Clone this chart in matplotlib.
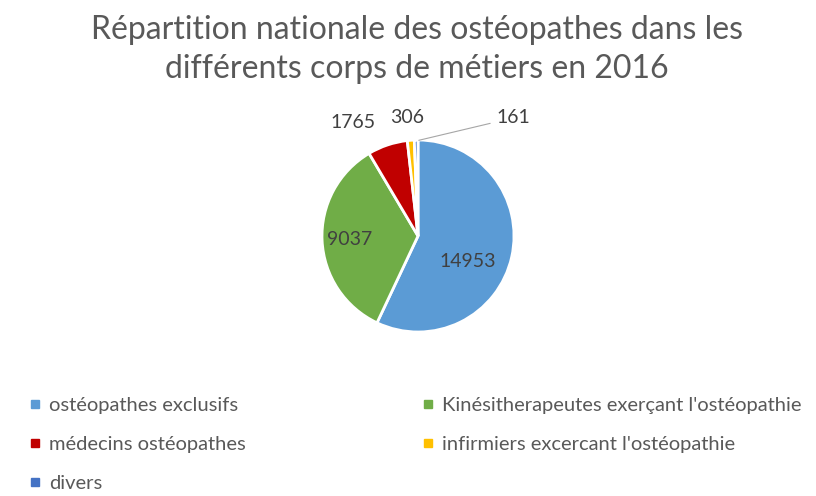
import matplotlib.pyplot as plt
from matplotlib.lines import Line2D

# data
categories = ["ostéopathes exclusifs",
              "Kinésitherapeutes exerçant l'ostéopathie",
              "médecins ostéopathes",
              "infirmiers excercant l'ostéopathie",
              "divers"]
values = [14953, 9037, 1765, 306, 161]
colors = ["#5B9BD5", "#70AD47", "#C00000", "#FFC000", "#4472C4"]
# where each value label sits (in pie radius units)
label_pos = [(0.52, -0.27), (-0.71, -0.04), (-0.68, 1.18), (-0.11, 1.23), (0.99, 1.23)]

plt.rcParams['font.family'] = ['Lato', 'DejaVu Sans']
grey = "#595959"

fig = plt.figure(figsize=(8.16, 4.96), dpi=100)
fig.text(0.511, 0.901, "Répartition nationale des ostéopathes dans les\ndifférents corps de métiers en 2016",
         ha='center', va='center', fontsize=23, color=grey, linespacing=1.38)

ax = fig.add_axes([322/816, 164/496, 192/816, 192/496])
wedges, _ = ax.pie(values, colors=colors, startangle=90, counterclock=False,
                   wedgeprops=dict(edgecolor='white', linewidth=2))
ax.set_xlim(-1, 1)
ax.set_ylim(-1, 1)
ax.set_aspect('equal')

for i, v in enumerate(values):
    x, y = label_pos[i]
    ax.text(x, y, str(v), ha='center', va='center', fontsize=14,
            color="#404040", clip_on=False)

# leader line for the smallest slice
ax.annotate("", xy=(-0.02, 0.99), xytext=(0.78, 1.18),
            arrowprops=dict(arrowstyle='-', color='#A6A6A6', lw=0.8),
            annotation_clip=False)

handles = [Line2D([], [], marker='s', linestyle='', markersize=5.5,
                  markerfacecolor=c, markeredgecolor=c) for c in colors]
order = [0, 2, 4, 1, 3]
fig.legend([handles[i] for i in order], [categories[i] for i in order],
           ncol=2, loc='upper left', bbox_to_anchor=(12/816, 1 - 379/496),
           frameon=False, fontsize=14.5, labelcolor=grey,
           handlelength=0.5, handletextpad=0.45, columnspacing=8.8,
           labelspacing=1.08)

fig.savefig("out.png", dpi=100, facecolor='white')
